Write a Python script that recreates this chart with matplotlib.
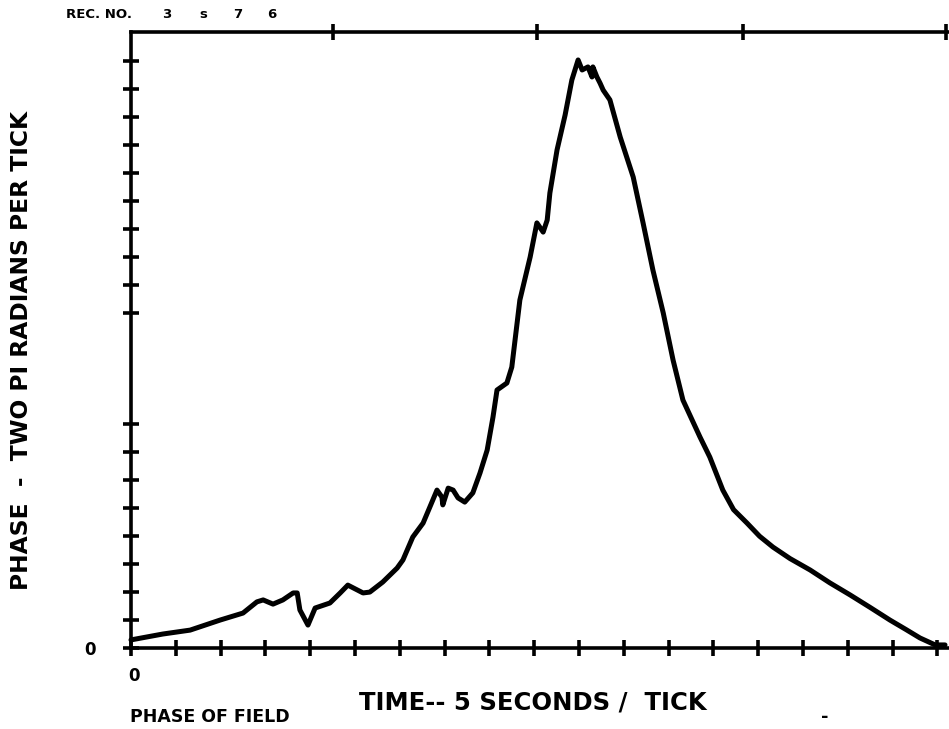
"""Phase of field vs time: scanned strip-chart style plot, one thick black trace."""

import matplotlib
matplotlib.use("Agg")
import matplotlib.pyplot as plt

# time in ticks (5 s / tick), phase in ticks (2 pi rad / tick)
time_ticks = [
    0.00, 0.71, 1.32, 1.99, 2.50, 2.81, 2.95, 3.17, 3.39, 3.62, 3.71, 3.77,
    3.95, 4.11, 4.44, 4.67, 4.84, 5.18, 5.33, 5.62, 5.94, 6.07, 6.29, 6.52,
    6.67, 6.83, 6.94, 6.96, 7.08, 7.19, 7.30, 7.45, 7.63, 7.79, 7.95, 8.08,
    8.17, 8.39, 8.50, 8.68, 8.91, 9.06, 9.20, 9.29, 9.35, 9.51, 9.69, 9.84,
    9.98, 10.07, 10.20, 10.29, 10.31, 10.40, 10.47, 10.54, 10.69, 10.92,
    11.21, 11.43, 11.65, 11.88, 12.10, 12.32, 12.70, 12.92, 13.21,
    13.45, 13.75, 14.03, 14.33, 14.71, 15.16, 15.60, 16.05, 16.50, 16.94,
    17.30, 17.61, 17.95, 18.17,
]
phase_ticks = [
    0.29, 0.50, 0.64, 1.00, 1.25, 1.65, 1.72, 1.57, 1.72, 1.97, 1.97, 1.36,
    0.82, 1.43, 1.61, 1.97, 2.25, 1.97, 2.00, 2.36, 2.86, 3.15, 3.97, 4.47,
    5.04, 5.65, 5.40, 5.12, 5.72, 5.65, 5.37, 5.22, 5.55, 6.26, 7.08, 8.26,
    9.23, 9.48, 10.05, 12.45, 13.99, 15.21, 14.88, 15.31, 16.28, 17.82,
    19.07, 20.32, 21.04, 20.68, 20.79, 20.43, 20.79, 20.43, 20.21, 19.96,
    19.61, 18.28, 16.85, 15.21, 13.52, 11.99, 10.30, 8.87, 7.55, 6.83,
    5.65, 4.95, 4.47, 4.00, 3.61, 3.20, 2.79, 2.33, 1.90, 1.45, 1.00, 0.66,
    0.36, 0.11, 0.11,
]

X_TICKS = list(range(0, 19))
Y_TICKS = [t for t in range(0, 22) if t not in (9, 10, 11)]  # gap in the scan
TOP_TICKS = [4.5, 9.07, 13.65, 18.2]
REC_DIGITS = ["3", "s", "7", "6"]

W, H = 949, 729
AX_L, AX_R, AX_B, AX_T = 131, 949, 648, 32   # pixel box of the plot frame

fig = plt.figure(figsize=(W / 100, H / 100), dpi=100)
ax = fig.add_axes([AX_L / W, (H - AX_B) / H, (AX_R - AX_L) / W, (AX_B - AX_T) / H])
ax.set_xlim(0, (AX_R - AX_L) / 44.8)
ax.set_ylim(0, (AX_B - AX_T) / 27.95)

ax.plot(time_ticks, phase_ticks, color="black", lw=3.6, solid_capstyle="round",
        solid_joinstyle="round", clip_on=False)

for side in ("left", "bottom", "top"):
    ax.spines[side].set_linewidth(2.6)
ax.spines["right"].set_visible(False)

ax.set_xticks(X_TICKS)
ax.set_yticks(Y_TICKS)
ax.set_xticklabels([])
ax.set_yticklabels([])
ax.tick_params(direction="inout", length=11, width=2.6, color="black")

top = ax.twiny()
top.set_xlim(ax.get_xlim())
top.set_xticks(TOP_TICKS)
top.set_xticklabels([])
top.tick_params(direction="inout", length=11, width=2.6)
for side in ("left", "right", "bottom", "top"):
    top.spines[side].set_visible(False)

bold = dict(fontweight="bold", family="DejaVu Sans", color="black")

# axis zeros and labels
fig.text(90 / W, 1 - 650 / H, "0", ha="center", va="center", fontsize=12, **bold)
fig.text(134 / W, 1 - 676 / H, "0", ha="center", va="center", fontsize=12, **bold)
fig.text(533 / W, 1 - 703 / H, "TIME-- 5 SECONDS /  TICK", ha="center", va="center",
         fontsize=17.5, **bold)
fig.text(130 / W, 1 - 717 / H, "PHASE OF FIELD", ha="left", va="center",
         fontsize=12.5, **bold)
fig.text(825 / W, 1 - 717 / H, "-", ha="center", va="center", fontsize=13, **bold)
fig.text(22 / W, 1 - 350 / H, "PHASE  -  TWO PI RADIANS PER TICK", ha="center",
         va="center", rotation=90, fontsize=16.8, **bold)

# record number header
fig.text(66 / W, 1 - 15 / H, "REC. NO.", ha="left", va="center", fontsize=9.5, **bold)
for px, d in zip([167, 203, 238, 272], REC_DIGITS):
    fig.text(px / W, 1 - 15 / H, d, ha="center", va="center", fontsize=9.5, **bold)

fig.savefig("out.png", dpi=100, facecolor="white")
